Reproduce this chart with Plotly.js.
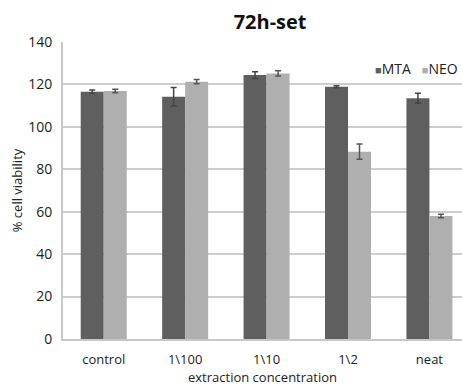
<!DOCTYPE html>
<html>
<head>
<meta charset="utf-8">
<script src="https://cdn.plot.ly/plotly-3.0.1.min.js"></script>
<style>html,body{margin:0;padding:0;background:#fff;}#chart{width:462px;height:385px;}</style>
</head>
<body>
<div id="chart"></div>
<script>
const categories = ["control", "1\\100", "1\\10", "1\\2", "neat"];
const seriesNames = ["MTA", "NEO"];
const mtaValues = [116.6, 114.2, 124.4, 118.9, 113.5];
const mtaErrors = [0.8, 4.4, 1.6, 0.5, 2.3];
const neoValues = [116.9, 121.3, 125.2, 88.3, 58.0];
const neoErrors = [0.8, 1.0, 1.2, 3.6, 0.8];
const yTicks = [0, 20, 40, 60, 80, 100, 120, 140];

const colors = ["#5f5f5f", "#afafaf"];
const font = "Open Sans, Lato, sans-serif";

const traces = [
  {type: "bar", name: seriesNames[0], x: categories, y: mtaValues,
   marker: {color: colors[0]},
   error_y: {type: "data", array: mtaErrors, visible: true, color: "#444", thickness: 1.5, width: 3}},
  {type: "bar", name: seriesNames[1], x: categories, y: neoValues,
   marker: {color: colors[1]},
   error_y: {type: "data", array: neoErrors, visible: true, color: "#555", thickness: 1.5, width: 3}}
];

const legendText = seriesNames.map((n, i) =>
  "<span style='color:" + colors[i] + ";font-size:11px'>■</span>" + n).join("&nbsp;&nbsp;&nbsp;");

const layout = {
  width: 462, height: 385,
  margin: {l: 63, r: 0, t: 42, b: 46, autoexpand: false},
  paper_bgcolor: "#ffffff", plot_bgcolor: "#ffffff",
  font: {family: font, size: 13, color: "#222"},
  showlegend: false,
  barmode: "group", bargap: 0.435, bargroupgap: 0,
  title: {text: "<b>72h-set</b>", font: {family: font, size: 20, color: "#111"},
          x: 0.519, xref: "paper", xanchor: "center", y: 0.943, yref: "container", yanchor: "middle"},
  xaxis: {type: "category", range: [-0.5, 4.4], showgrid: false, zeroline: false,
          showline: true, linecolor: "#c8c8c8", linewidth: 2,
          ticks: "outside", ticklen: 7, tickcolor: "rgba(0,0,0,0)",
          tickfont: {size: 13, color: "#222"},
          automargin: false},
  yaxis: {range: [0, 140], tickvals: yTicks, ticktext: yTicks.map(String),
          showgrid: true, gridcolor: "#cdcdcd", gridwidth: 2, zeroline: false,
          showline: true, linecolor: "#c8c8c8", linewidth: 2,
          ticks: "outside", ticklen: 6, tickcolor: "rgba(0,0,0,0)",
          tickfont: {size: 14, color: "#222"},
          automargin: false,
          title: {text: "% cell viability", font: {size: 13, color: "#222"}, standoff: 3}},
  annotations: [
    {xref: "paper", yref: "paper", x: (373 - 63) / 399, y: (339 - 68) / 297,
     xanchor: "left", yanchor: "middle", showarrow: false, text: legendText,
     font: {family: font, size: 14, color: "#222"}},
    {xref: "paper", yref: "paper", x: (262 - 63) / 399, y: -(377 - 339) / 297,
     xanchor: "center", yanchor: "middle", showarrow: false, text: "extraction concentration",
     font: {family: font, size: 13, color: "#222"}}
  ]
};

Plotly.newPlot("chart", traces, layout, {displayModeBar: false, staticPlot: true});
</script>
</body>
</html>
